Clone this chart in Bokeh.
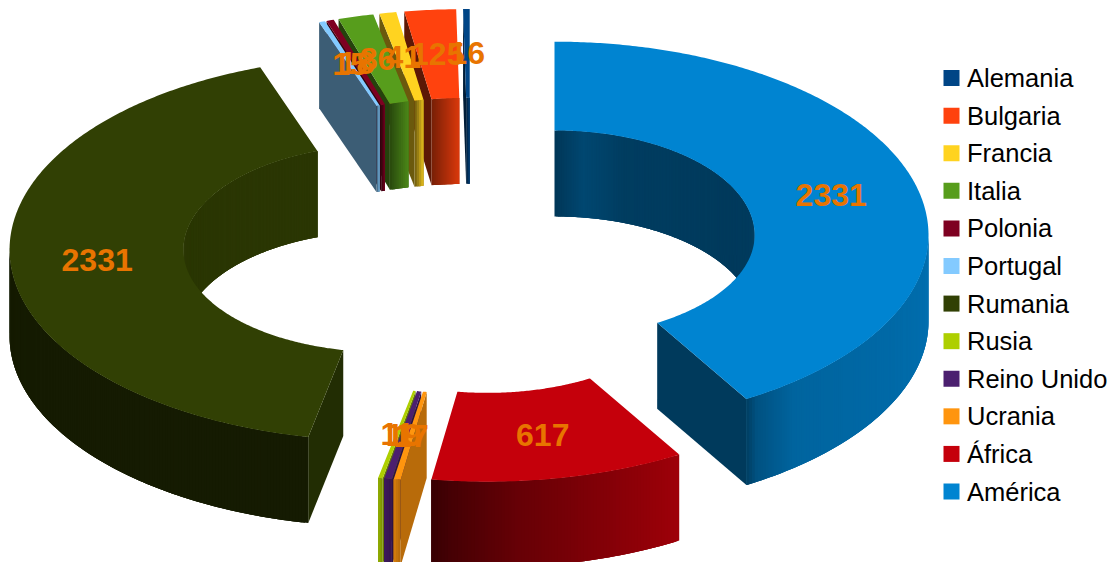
import numpy as np
from bokeh.core.properties import value
from bokeh.embed import file_html
from bokeh.models import ColumnDataSource
from bokeh.plotting import figure
from bokeh.resources import INLINE

# Visitors per origin; slices run clockwise from twelve o'clock.
names = ["América", "África", "Ucrania", "Reino Unido", "Rusia", "Rumania",
         "Portugal", "Polonia", "Italia", "Francia", "Bulgaria", "Alemania"]
values = [2331, 617, 17, 19, 11, 2331, 15, 18, 86, 41, 125, 16]
colors = ["#0084d1", "#c5000b", "#ff950e", "#4b1f6f", "#aecf00", "#314004",
          "#83caff", "#7e0021", "#579d1c", "#ffd320", "#ff420e", "#004586"]
legend_names = ["Alemania", "Bulgaria", "Francia", "Italia", "Polonia", "Portugal",
                "Rumania", "Rusia", "Reino Unido", "Ucrania", "África", "América"]

# Ring geometry in page pixels.
CX, CY = 470.0, 246.5
RX, RY = 374.0, 191.0
FAR_LIFT = 2.5
HOLE = 0.535
EXPLODE = 0.233
DEPTH = 86.0

# Brightness along the walls, as (angle, factor) stops.
OUTER_STOPS = {
    "América": ([-59.5, -57, -50, -25, 10], [0.42, 0.62, 0.76, 0.80, 0.86]),
    "África": ([-98.5, -95, -85, -59], [0.28, 0.36, 0.52, 0.80]),
    "Rumania": ([109, 180, 249, 253, 258.5], [0.42, 0.42, 0.43, 0.75, 0.85]),
}
INNER_STOPS = {
    "América": ([-10, 30, 70, 82, 90], [0.46, 0.44, 0.46, 0.54, 0.42]),
    "Rumania": ([109, 113, 135, 180, 250], [0.85, 0.62, 0.68, 0.86, 0.86]),
}
FACE_SHADE = {"América": 0.44, "Rumania": 0.70, "Portugal": 0.46, "Ucrania": 0.72,
              "Reino Unido": 0.6, "Rusia": 0.6, "Bulgaria": 0.36}


def shade(hex_color, k):
    rgb = [int(hex_color[i:i + 2], 16) for i in (1, 3, 5)]
    return "#%02x%02x%02x" % tuple(int(round(min(255, c * k))) for c in rgb)


xs, ys, fills = [], [], []


def add(px, py, color):
    xs.append(list(px))
    ys.append(list(py))
    fills.append(color)


# Angular extent of each slice.
total = sum(values)
spans = np.array(values) / total * 360.0
ends = 90.0 - np.cumsum(spans)
starts = ends + spans
labels_x, labels_y, labels_t = [], [], []


def point(cx, cy, r, ang):
    a = np.radians(ang)
    s = np.sin(a)
    return cx + r * RX * np.cos(a), cy - r * RY * s - FAR_LIFT * np.maximum(s, 0)


def wall(cx, cy, r, band, col, stops, k0, k1):
    # Narrow quads, each running under the next so no seams show between them.
    n = len(band)
    for j in range(n - 1):
        t = j / max(1, n - 2)
        k = np.interp(band[j], *stops) if stops else k0 + (k1 - k0) * t
        tail = band[min(j + 3, n - 1)]
        x0, y0 = point(cx, cy, r, band[j])
        x1, y1 = point(cx, cy, r, tail)
        xm, ym = point(cx, cy, r, (band[j] + tail) / 2)
        add([x0, xm, x1, x1, xm, x0],
            [y0, ym, y1, y1 + DEPTH, ym + DEPTH, y0 + DEPTH], shade(col, k))


def draw_slice(i):
    name, col = names[i], colors[i]
    a0, a1 = starts[i], ends[i]
    mid = (a0 + a1) / 2
    cx = CX + EXPLODE * RX * np.cos(np.radians(mid))
    cy = CY - EXPLODE * RY * np.sin(np.radians(mid))
    arc = np.linspace(a0, a1, max(4, int(abs(a0 - a1) * 2)))

    # Cut faces, drawn only when they turn towards the viewer.
    for ang, visible in ((a0, np.cos(np.radians(a0)) < 0), (a1, np.cos(np.radians(a1)) > 0)):
        if not visible:
            continue
        ox, oy = point(cx, cy, 1.0, ang)
        ix, iy = point(cx, cy, HOLE, ang)
        # Near-edge-on faces at the top of the ring narrow towards their foot.
        f = np.clip((ang - 100.0) / 8.0, 0, 1) if 90 < ang < 115 else 1.0
        bx = ix + (ox - ix) * f
        k = FACE_SHADE.get(name, 0.42)
        add([ox, ix, ix, bx], [oy, iy, iy + DEPTH, iy + (oy - iy) * f + DEPTH], shade(col, k))

    # Wall of the hole, seen on its far side.
    band = arc[np.sin(np.radians(arc)) >= 0]
    if len(band) > 1:
        wall(cx, cy, HOLE, band, col, INNER_STOPS.get(name), 0.48, 0.84)

    # Outer wall, seen on the near side.
    band = arc[np.sin(np.radians(arc)) <= 0.02]
    if len(band) > 1:
        wall(cx, cy, 1.0, band, col, OUTER_STOPS.get(name), 0.72, 0.82)

    # Upper face.
    ox, oy = point(cx, cy, 1.0, arc)
    ix, iy = point(cx, cy, HOLE, arc[::-1])
    add(np.r_[ox, ix], np.r_[oy, iy], col)

    lx, ly = point(cx, cy, (1 + HOLE) / 2, mid)
    labels_x.append(lx)
    labels_y.append(ly)
    labels_t.append(str(values[i]))


# Painter's order: far small slices first, each one covering the cut of its neighbour.
for nm in ["Alemania", "Bulgaria", "Francia", "Italia", "Polonia", "Portugal",
           "Rumania", "América", "Rusia", "Reino Unido", "Ucrania", "África"]:
    draw_slice(names.index(nm))

p = figure(width=1117, height=562, x_range=(0, 1117), y_range=(562, 0),
           output_backend="svg", toolbar_location=None, min_border=0,
           outline_line_color=None, background_fill_color="white",
           border_fill_color="white")
p.axis.visible = False
p.grid.visible = False

p.patches(xs="xs", ys="ys", fill_color="c", line_color=None,
          source=ColumnDataSource(dict(xs=xs, ys=ys, c=fills)))

# Value labels in slice order.
order = sorted(range(len(labels_t)), key=lambda n: labels_x[n])
p.text(x="x", y="y", text="t", text_font=value("Liberation Sans"),
       text_font_size="32px", text_font_style="bold", text_color="#e87400",
       text_align="center", text_baseline="middle",
       source=ColumnDataSource(dict(x=[labels_x[n] for n in order],
                                    y=[labels_y[n] for n in order],
                                    t=[labels_t[n] for n in order])))

# Legend column.
rows = 77.6 + np.arange(len(legend_names)) * (491.0 - 77.6) / (len(legend_names) - 1)
swatches = [colors[names.index(n)] for n in legend_names]
p.rect(x=[951] * len(rows), y=rows, width=16, height=16,
       fill_color=swatches, line_color=None)
p.text(x=[966.5] * len(rows), y=rows, text=legend_names,
       text_font=value("Liberation Sans"), text_font_size="25.5px", text_color="#000000",
       text_align="left", text_baseline="middle")

open("out.html", "w").write(file_html(p, INLINE))
